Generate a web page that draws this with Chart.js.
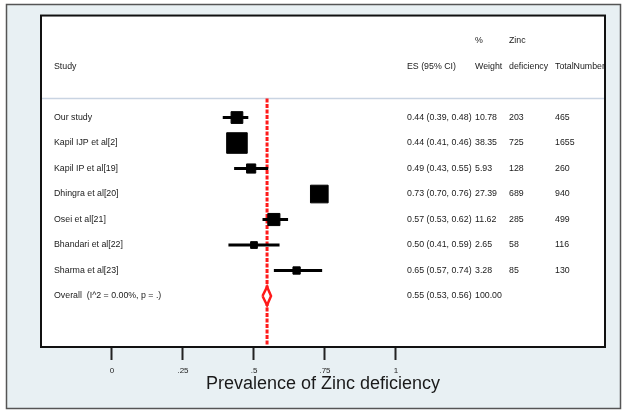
<!DOCTYPE html>
<html>
<head>
<meta charset="utf-8">
<script src="https://cdn.jsdelivr.net/npm/chart.js@4.4.0/dist/chart.umd.min.js"></script>
<style>
  html, body { margin: 0; padding: 0; background: #fff; }
  #wrap { width: 622px; height: 410px; position: relative; }
</style>
</head>
<body>
<div id="wrap"><canvas id="forest"></canvas></div>
<script>
// study rows (top to bottom)
var studies = ['Our study', 'Kapil IJP et al[2]', 'Kapil IP et al[19]', 'Dhingra et al[20]',
               'Osei et al[21]', 'Bhandari et al[22]', 'Sharma et al[23]'];
var es      = [0.44, 0.44, 0.49, 0.73, 0.57, 0.50, 0.65];
var ciLow   = [0.39, 0.41, 0.43, 0.70, 0.53, 0.41, 0.57];
var ciHigh  = [0.48, 0.46, 0.55, 0.76, 0.62, 0.59, 0.74];
var weights = [10.78, 38.35, 5.93, 27.39, 11.62, 2.65, 3.28];
var zincDef = [203, 725, 128, 689, 285, 58, 85];
var totalN  = [465, 1655, 260, 940, 499, 116, 130];

// pooled estimate
var overallLabel = 'Overall  (I^2 = 0.00%, p = .)';
var overallES = 0.546, overallLow = 0.53, overallHigh = 0.56, overallWeight = 100;

var tickValues = [0, 0.25, 0.5, 0.75, 1];
var tickLabels = ['0', '.25', '.5', '.75', '1'];

var headTop = ['', '', '%', 'Zinc', ''];
var headBottom = ['Study', 'ES (95% CI)', 'Weight', 'deficiency', 'TotalNumber'];

var FONT = '"Liberation Sans", Arial, sans-serif';
var overallRow = studies.length;
var colX = [54, 407, 475, 509, 555];   // text columns

function fmt(v) { return v.toFixed(2); }

// marker side grows with sqrt(weight), like stata's weighted boxes
function boxRadius(w) {
    var side = 2.8 + 3.03 * Math.sqrt(w) - 1;
    return side / (2 * Math.SQRT1_2);
}

var datasets = [];

// confidence intervals
studies.forEach(function(s, i){
    datasets.push({
        type: 'line',
        data: [{x: ciLow[i], y: i}, {x: ciHigh[i], y: i}],
        borderColor: '#000',
        borderWidth: 3,
        pointRadius: 0,
        order: 3
    });
});

// weighted boxes
datasets.push({
    type: 'scatter',
    data: es.map(function(v, i){ return {x: v, y: i}; }),
    pointStyle: 'rect',
    pointRadius: weights.map(boxRadius),
    backgroundColor: '#000',
    borderColor: '#000',
    borderWidth: 1,
    order: 2
});

// overall line (dashed red)
datasets.push({
    type: 'line',
    data: [{x: overallES, y: -0.75}, {x: overallES, y: 9}],
    borderColor: '#ff1a1a',
    borderWidth: 3,
    borderDash: [4, 1.5],
    pointRadius: 0,
    order: 5
});

// overall diamond
var dh = 0.36;
datasets.push({
    type: 'line',
    data: [
        {x: overallLow, y: overallRow},
        {x: overallES, y: overallRow - dh},
        {x: overallHigh, y: overallRow},
        {x: overallES, y: overallRow + dh},
        {x: overallLow, y: overallRow}
    ],
    borderColor: '#ff1a1a',
    borderWidth: 2.5,
    backgroundColor: '#fff',
    fill: 'shape',
    tension: 0,
    pointRadius: 0,
    order: 1
});

var framePlugin = {
    id: 'frame',
    beforeDraw: function(chart){
        var ctx = chart.ctx, a = chart.chartArea;
        ctx.save();
        ctx.fillStyle = '#fff';
        ctx.fillRect(0, 0, chart.width, chart.height);
        ctx.fillStyle = '#e8f0f3';
        ctx.fillRect(6, 4, 615, 405);
        ctx.strokeStyle = '#555';
        ctx.lineWidth = 1.5;
        ctx.strokeRect(6.5, 4.5, 614, 404);
        ctx.fillStyle = '#fff';
        ctx.fillRect(a.left, a.top, a.right - a.left, a.bottom - a.top);
        // separator under header
        var ys = chart.scales.y.getPixelForValue(-0.75);
        ctx.strokeStyle = '#c9d4e2';
        ctx.lineWidth = 1.5;
        ctx.beginPath();
        ctx.moveTo(a.left, ys);
        ctx.lineTo(a.right, ys);
        ctx.stroke();
        ctx.restore();
    },
    afterDraw: function(chart){
        var ctx = chart.ctx, a = chart.chartArea, y = chart.scales.y;
        ctx.save();
        ctx.beginPath();
        ctx.rect(a.left, a.top, a.right - a.left, a.bottom - a.top);
        ctx.clip();
        ctx.fillStyle = '#1a1a1a';
        ctx.font = '8.8px ' + FONT;
        ctx.textBaseline = 'middle';
        ctx.textAlign = 'left';
        headTop.forEach(function(t, k){ if (t) ctx.fillText(t, colX[k], y.getPixelForValue(-3)); });
        headBottom.forEach(function(t, k){ ctx.fillText(t, colX[k], y.getPixelForValue(-2)); });
        studies.forEach(function(s, i){
            var py = y.getPixelForValue(i);
            ctx.fillText(s, colX[0], py);
            ctx.fillText(fmt(es[i]) + ' (' + fmt(ciLow[i]) + ', ' + fmt(ciHigh[i]) + ')', colX[1], py);
            ctx.fillText(fmt(weights[i]), colX[2], py);
            ctx.fillText(String(zincDef[i]), colX[3], py);
            ctx.fillText(String(totalN[i]), colX[4], py);
        });
        var po = y.getPixelForValue(overallRow);
        ctx.fillText(overallLabel, colX[0], po);
        ctx.fillText(fmt(overallES) + ' (' + fmt(overallLow) + ', ' + fmt(overallHigh) + ')', colX[1], po);
        ctx.fillText(fmt(overallWeight), colX[2], po);
        ctx.restore();

        // plot region border
        ctx.save();
        ctx.strokeStyle = '#111';
        ctx.lineWidth = 2;
        ctx.strokeRect(a.left, a.top, a.right - a.left, a.bottom - a.top);
        ctx.restore();
    }
};

new Chart(document.getElementById('forest'), {
    type: 'scatter',
    data: {datasets: datasets},
    plugins: [framePlugin],
    options: {
        responsive: true,
        maintainAspectRatio: false,
        animation: false,
        layout: {padding: {left: 41, top: 14, right: 17, bottom: 0}},
        plugins: {legend: {display: false}, tooltip: {enabled: false}},
        scales: {
            x: {
                type: 'linear',
                min: -0.25,
                max: 1.736,
                afterBuildTicks: function(scale){
                    scale.ticks = tickValues.map(function(v){ return {value: v}; });
                },
                afterFit: function(scale){ scale.height = 63; },
                ticks: {
                    autoSkip: false,
                    maxRotation: 0,
                    padding: 6,
                    color: '#222',
                    font: {family: FONT, size: 8},
                    callback: function(v, idx){ return tickLabels[idx]; }
                },
                grid: {
                    display: true,
                    drawOnChartArea: false,
                    drawTicks: true,
                    tickLength: 13,
                    tickColor: '#222',
                    tickWidth: 2
                },
                border: {display: false},
                title: {
                    display: true,
                    text: 'Prevalence of Zinc deficiency',
                    color: '#1a1a1a',
                    font: {family: FONT, size: 18},
                    padding: {top: 0, bottom: 15}
                }
            },
            y: {
                type: 'linear',
                display: false,
                min: -4,
                max: 9,
                reverse: true
            }
        }
    }
});
</script>
</body>
</html>
